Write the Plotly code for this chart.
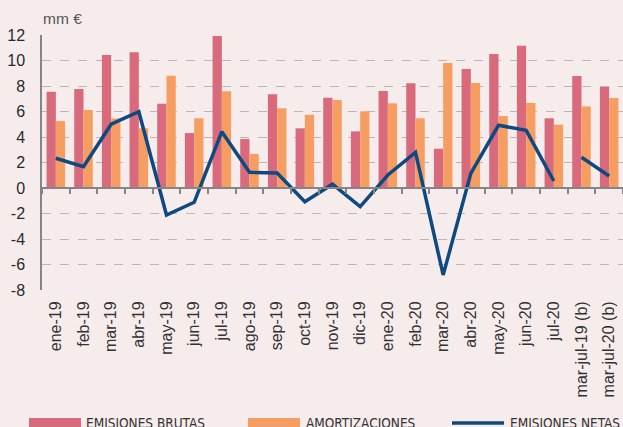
import plotly.graph_objects as go

categories = ["ene-19", "feb-19", "mar-19", "abr-19", "may-19", "jun-19", "jul-19",
              "ago-19", "sep-19", "oct-19", "nov-19", "dic-19", "ene-20", "feb-20",
              "mar-20", "abr-20", "may-20", "jun-20", "jul-20",
              "mar-jul-19 (b)", "mar-jul-20 (b)"]
emisiones_brutas = [7.55, 7.76, 10.43, 10.64, 6.61, 4.31, 11.92, 3.84, 7.35, 4.68,
                    7.08, 4.44, 7.61, 8.21, 3.08, 9.33, 10.51, 11.16, 5.47, 8.78, 7.92]
amortizaciones = [5.25, 6.12, 5.45, 4.68, 8.81, 5.47, 7.58, 2.67, 6.25, 5.74,
                  6.90, 6.01, 6.64, 5.47, 9.80, 8.24, 5.65, 6.67, 4.97, 6.40, 7.06]
emisiones_netas = [2.33, 1.67, 5.00, 5.98, -2.12, -1.12, 4.42, 1.23, 1.18, -1.07,
                   0.30, -1.46, 1.02, 2.80, -6.82, 1.15, 4.92, 4.52, 0.55, 2.41, 0.94]
# gap in the net line between jul-20 and the (b) aggregates
netas_plot = emisiones_netas[:19] + [None] + [None]
netas_b = [None] * 19 + emisiones_netas[19:]
y_ticks = [12, 10, 8, 6, 4, 2, 0, -2, -4, -6, -8]
legend_labels = ["EMISIONES BRUTAS", "AMORTIZACIONES", "EMISIONES NETAS"]

RED = "#D86A7B"
ORANGE = "#F69E62"
BLUE = "#0E4A80"
BG = "#F7ECEC"

W_FIG, H_FIG = 623, 427
ML, MR, MT, MB = 42, 0, 35, 137
PW = W_FIG - ML - MR
PH = H_FIG - MT - MB
YMIN, YMAX = -8, 12


def px_x(px):
    return (px - ML) / PW


def px_y(py):
    return (H_FIG - MB - py) / PH


fig = go.Figure()
fig.add_trace(go.Bar(x=categories, y=emisiones_brutas, marker_color=RED,
                     marker_line_width=0, name=legend_labels[0]))
fig.add_trace(go.Bar(x=categories, y=amortizaciones, marker_color=ORANGE,
                     marker_line_width=0, name=legend_labels[1]))
fig.add_trace(go.Scatter(x=categories, y=netas_plot, mode="lines",
                         line=dict(color=BLUE, width=3.5), connectgaps=False,
                         name=legend_labels[2]))
fig.add_trace(go.Scatter(x=categories, y=netas_b, mode="lines",
                         line=dict(color=BLUE, width=3.5), connectgaps=False,
                         showlegend=False))

zero_pos = (0 - YMIN) / (YMAX - YMIN)

fig.update_layout(
    width=W_FIG, height=H_FIG,
    margin=dict(l=ML, r=MR, t=MT, b=MB, pad=0),
    paper_bgcolor=BG, plot_bgcolor=BG,
    showlegend=False,
    barmode="group", bargap=0.33, bargroupgap=0,
    font=dict(family="Liberation Sans, Arial, sans-serif", color="#333333"),
    xaxis=dict(
        type="category", categoryorder="array", categoryarray=categories,
        anchor="free", position=zero_pos,
        showline=True, linecolor="#858585", linewidth=2,
        ticks="outside", tickson="boundaries", ticklen=5, tickwidth=1.5,
        tickcolor="#858585",
        tickangle=-90, tickfont=dict(size=16, color="#333333"),
        ticklabelstandoff=int(round(zero_pos * PH)) + 4,
        showgrid=False, zeroline=False, fixedrange=True,
    ),
    yaxis=dict(
        range=[YMIN, YMAX], domain=[0, 1],
        tickvals=y_ticks, ticktext=[str(v) for v in y_ticks],
        tickfont=dict(size=16, color="#2a2a2a"),
        showline=True, linecolor="#858585", linewidth=1.5,
        showgrid=True, gridcolor="#B8B8B8", gridwidth=1, griddash="dash",
        zeroline=False, ticks="", ticklabelstandoff=12, fixedrange=True,
    ),
)

# unit label
fig.add_annotation(text="mm €", xref="paper", yref="paper",
                   x=px_x(41), y=px_y(8), xanchor="left", yanchor="top",
                   showarrow=False, font=dict(size=15.5, color="#555555"))

# manual legend
leg_font = dict(family="Liberation Sans Narrow, DejaVu Sans Condensed, Arial Narrow, Liberation Sans, sans-serif",
                size=13.5, color="#333333")
sw = [(29, 81, RED), (248, 300, ORANGE)]
for x0, x1, c in sw:
    fig.add_shape(type="rect", xref="paper", yref="paper",
                  x0=px_x(x0), x1=px_x(x1), y0=px_y(418), y1=px_y(432),
                  fillcolor=c, line_width=0, layer="above")
fig.add_shape(type="line", xref="paper", yref="paper",
              x0=px_x(452), x1=px_x(504), y0=px_y(423), y1=px_y(423),
              line=dict(color=BLUE, width=3.5), layer="above")
for xt, lab in zip([84, 304, 508], legend_labels):
    fig.add_annotation(text=lab, xref="paper", yref="paper",
                       x=px_x(xt), y=px_y(413), xanchor="left", yanchor="top",
                       showarrow=False, font=leg_font)

fig.write_html("out.html",
               config={"displayModeBar": False},
               post_script="document.body.style.margin='0';document.body.style.overflow='hidden';")
